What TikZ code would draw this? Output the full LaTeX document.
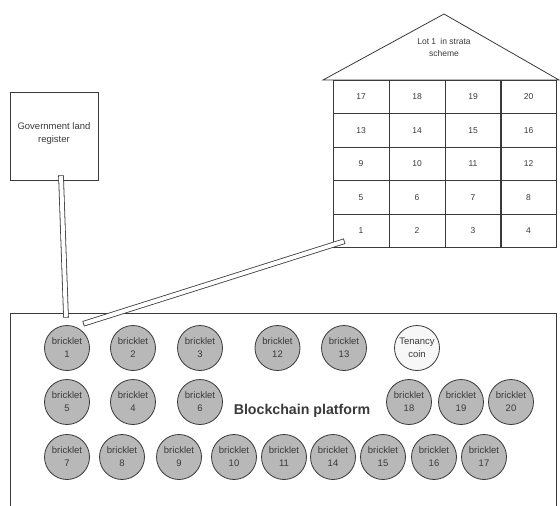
\documentclass[tikz,border=0pt]{standalone}
\usepackage{fontspec}
\setmainfont{Liberation Sans}
\usetikzlibrary{positioning}
\definecolor{coin}{HTML}{B8B8B8}
\definecolor{ink}{HTML}{3A3A3A}
\begin{document}
\begin{tikzpicture}[x=1pt,y=-1pt,
  line width=0.8pt,
  every node/.style={font=\fontsize{9.5}{13}\selectfont, text=ink},
  brick/.style={circle, draw=ink, fill=coin, minimum size=45pt, inner sep=0pt, align=center},
  tenancy/.style={circle, draw=ink, fill=white!97!black, minimum size=45pt, inner sep=0pt, align=center},
  cell/.style={rectangle, draw=ink, minimum width=56pt, minimum height=33.5pt, inner sep=0pt, font=\fontsize{8.5}{10}\selectfont},
  box/.style={rectangle, draw=ink, minimum width=88pt, minimum height=88pt, inner sep=2pt, align=center},
  stripout/.style={draw=ink, line width=5.6pt},
  stripin/.style={draw=white, line width=4pt, shorten >=0.8pt, shorten <=0.8pt}]
\useasboundingbox (0,0) rectangle (560,506);
\fill[white] (0,0) rectangle (560,506);

% Government land register
\node[box] (gov) at (54,136) {};
\node[align=center] (govt) at (54,134) {Government land\\register};

% House roof
\draw[ink] (323,80) -- (444,14) -- (559,80) -- cycle;
\node[align=center, font=\fontsize{8.5}{12}\selectfont] (roof) at (444,47) {Lot 1\enspace in strata\\scheme};

% Grid of lots
\foreach \r/\y in {0/97,1/130.5,2/164,3/197.5,4/231}{
  \foreach \c/\x in {1/361,2/417,3/473,4/528.5}{
    \pgfmathtruncatemacro{\n}{(4-\r)*4+\c}
    \node[cell] (c\n) at (\x,\y) {\n};
  }
}

% Platform
\draw[ink] (10,525) -- (10,313) -- (556,313) -- (556,525);
\node[font=\fontsize{14.2}{17}\selectfont\bfseries] (bp) at (302,411) {Blockchain platform};

% Row 1
\node[brick] (b1) at (67,348) {bricklet\\1};
\node[brick] (b2) at (133,348) {bricklet\\2};
\node[brick] (b3) at (200,348) {bricklet\\3};
\node[brick] (b12) at (277.5,348) {bricklet\\12};
\node[brick] (b13) at (344,348) {bricklet\\13};
\node[tenancy] (tc) at (417,348) {Tenancy\\coin};
% Row 2
\node[brick] (b5) at (67,402) {bricklet\\5};
\node[brick] (b4) at (133,402) {bricklet\\4};
\node[brick] (b6) at (200,402) {bricklet\\6};
\node[brick] (b18) at (409,402) {bricklet\\18};
\node[brick] (b19) at (461,402) {bricklet\\19};
\node[brick] (b20) at (511,402) {bricklet\\20};
% Row 3
\node[brick] (b7) at (67,457) {bricklet\\7};
\node[brick] (b8) at (122,457) {bricklet\\8};
\node[brick] (b9) at (179,457) {bricklet\\9};
\node[brick] (b10) at (234,457) {bricklet\\10};
\node[brick] (b11) at (284,457) {bricklet\\11};
\node[brick] (b14) at (333,457) {bricklet\\14};
\node[brick] (b15) at (383,457) {bricklet\\15};
\node[brick] (b16) at (434,457) {bricklet\\16};
\node[brick] (b17) at (484,457) {bricklet\\17};

% Connectors (hollow strips)
\coordinate (gs) at ([xshift=7pt,yshift=5pt]gov.south);
\coordinate (bt) at ([xshift=-1pt,yshift=7.5pt]b1.north);
\coordinate (ls) at ([xshift=12pt,yshift=7pt]c1.south west);
\coordinate (be) at ([yshift=8pt]b1.north east);
\draw[stripout] (gs) -- (bt);
\draw[stripin] (gs) -- (bt);
\draw[stripout] (ls) -- (be);
\draw[stripin] (ls) -- (be);
\end{tikzpicture}
\end{document}
